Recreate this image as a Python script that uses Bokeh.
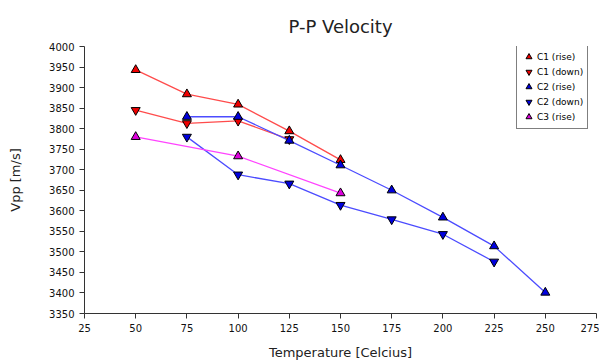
from bokeh.plotting import figure
from bokeh.models import Legend, LegendItem, FixedTicker, Range1d
from bokeh.embed import file_html
from bokeh.resources import INLINE

c1_rise_x = [50, 75, 100, 125, 150]
c1_rise_y = [3943, 3884, 3859, 3794, 3724]
c1_down_x = [50, 75, 100, 125]
c1_down_y = [3845, 3813, 3819, 3774]
c2_rise_x = [75, 100, 125, 150, 175, 200, 225, 250]
c2_rise_y = [3829, 3829, 3771, 3711, 3650, 3584, 3514, 3401]
c2_down_x = [75, 100, 125, 150, 175, 200, 225]
c2_down_y = [3780, 3688, 3666, 3614, 3579, 3543, 3476]
c3_rise_x = [50, 100, 150]
c3_rise_y = [3780, 3733, 3643]

x_ticks = [25, 50, 75, 100, 125, 150, 175, 200, 225, 250, 275]
y_ticks = list(range(3350, 4001, 50))

p = figure(width=599, height=362, output_backend="svg", toolbar_location=None,
           x_range=Range1d(25, 275), y_range=Range1d(3350, 4000),
           min_border_left=84, min_border_right=3, min_border_top=46, min_border_bottom=43,
           title="P-P Velocity")
p.title.align = "center"
p.title.text_font = "DejaVu Sans"
p.title.text_font_size = "18px"
p.title.text_font_style = "normal"
p.title.text_color = "#222222"
p.title.standoff = 20
p.outline_line_color = None
p.xgrid.visible = False
p.ygrid.visible = False

for ax in (p.xaxis[0], p.yaxis[0]):
    ax.axis_line_color = "#333333"
    ax.major_tick_line_color = "#333333"
    ax.major_tick_in = 0
    ax.major_tick_out = 5
    ax.minor_tick_line_color = None
    ax.major_label_text_font = "DejaVu Sans"
    ax.major_label_text_font_size = "10px"
    ax.major_label_text_color = "#111111"
    ax.axis_label_text_font = "DejaVu Sans"
    ax.axis_label_text_font_size = "13px"
    ax.axis_label_text_font_style = "normal"
    ax.axis_label_text_color = "#222222"
p.xaxis.ticker = FixedTicker(ticks=x_ticks)
p.yaxis.ticker = FixedTicker(ticks=y_ticks)
p.xaxis.axis_label = "Temperature [Celcius]"
p.yaxis.axis_label = "Vpp [m/s]"
p.xaxis.axis_label_standoff = 10
p.yaxis.axis_label_standoff = 23

series = [
    ("C1 (rise)", c1_rise_x, c1_rise_y, "#ff4c4c", "#ee0000", "triangle"),
    ("C1 (down)", c1_down_x, c1_down_y, "#ff4c4c", "#ee0000", "inverted_triangle"),
    ("C2 (rise)", c2_rise_x, c2_rise_y, "#4c4cff", "#0000dd", "triangle"),
    ("C2 (down)", c2_down_x, c2_down_y, "#4c4cff", "#0000dd", "inverted_triangle"),
    ("C3 (rise)", c3_rise_x, c3_rise_y, "#ff44ff", "#dd00dd", "triangle"),
]
items = []
for name, xs, ys, lc, fc, mk in series:
    p.line(xs, ys, line_color=lc, line_width=1.3)
    r = p.scatter(xs, ys, marker=mk, size=9, fill_color=fc, line_color="black", line_width=1)
    items.append(LegendItem(label=name, renderers=[r]))

legend = Legend(items=items, location=(432, 184))
legend.label_text_font = "DejaVu Sans"
legend.label_text_font_size = "9px"
legend.label_text_color = "black"
legend.glyph_width = 15
legend.glyph_height = 15
legend.label_height = 15
legend.spacing = 0
legend.padding = 4
legend.margin = 0
legend.label_standoff = 1
legend.border_line_color = "black"
legend.border_line_width = 1
legend.background_fill_alpha = 1
p.add_layout(legend)

open("out.html", "w").write(file_html(p, INLINE))
